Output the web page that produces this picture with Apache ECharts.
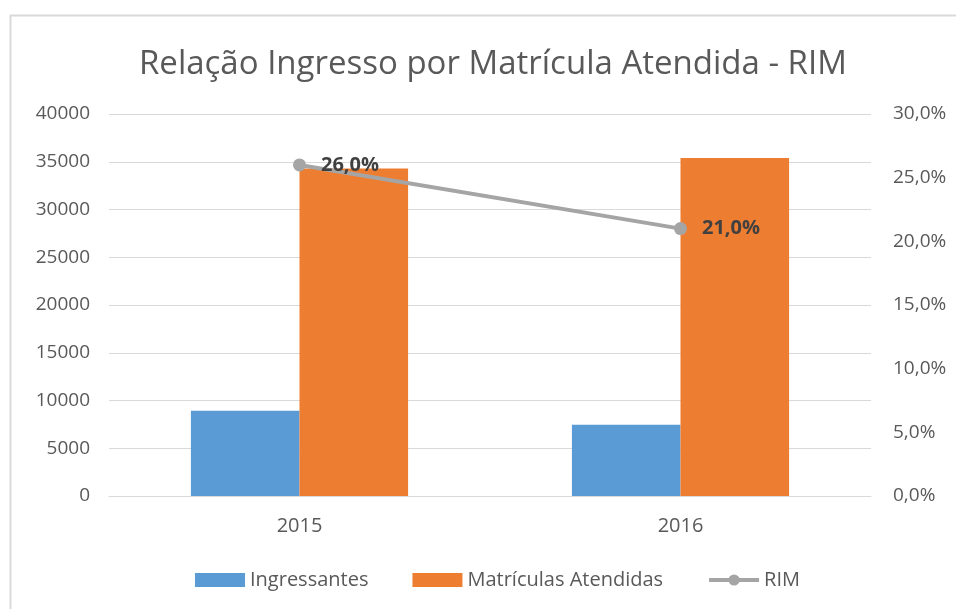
<!DOCTYPE html>
<html>
<head>
<meta charset="utf-8">
<script src="https://cdn.jsdelivr.net/npm/echarts@6/dist/echarts.min.js"></script>
<style>
  html, body { margin: 0; padding: 0; background: #fff; }
  #chart { width: 956px; height: 609px; }
</style>
</head>
<body>
<div id="chart"></div>
<script>
var categories = ['2015', '2016'];
var ingressantes = [8925, 7460];
var matriculas = [34290, 35400];
var rim = [0.26, 0.21];

var fontFam = '"Open Sans", "Noto Sans", sans-serif';
var grey = '#595959';

function pct(v) {
  return (v * 100).toFixed(1).replace('.', ',') + '%';
}

var option = {
  backgroundColor: '#fff',
  animation: false,
  textStyle: { fontFamily: fontFam },
  graphic: [{
    type: 'rect',
    left: 8, top: 13,
    shape: { width: 1000, height: 700 },
    style: { fill: 'none', stroke: '#d9d9d9', lineWidth: 2 },
    silent: true
  }],
  title: {
    text: 'Relação Ingresso por Matrícula Atendida - RIM',
    left: 134,
    top: 43,
    textStyle: { fontFamily: fontFam, fontSize: 33, fontWeight: 'normal', color: grey }
  },
  legend: {
    bottom: 14,
    left: 190,
    itemWidth: 50,
    itemHeight: 14,
    itemGap: 44,
    textStyle: { fontFamily: fontFam, fontSize: 20, color: grey },
    data: [
      { name: 'Ingressantes', icon: 'rect' },
      { name: 'Matrículas Atendidas', icon: 'rect' },
      { name: 'RIM', lineStyle: { width: 4, color: '#a5a5a5' } }
    ]
  },
  grid: { left: 109, right: 85, top: 114, bottom: 113 },
  xAxis: {
    type: 'category',
    data: categories,
    axisTick: { show: false },
    axisLine: { lineStyle: { color: '#d9d9d9', width: 1 } },
    axisLabel: { margin: 20, fontSize: 20, color: grey, fontFamily: fontFam }
  },
  yAxis: [{
    type: 'value',
    min: 0, max: 40000, interval: 5000,
    axisLine: { show: false },
    axisTick: { show: false },
    splitLine: { lineStyle: { color: '#d9d9d9', width: 1 } },
    axisLabel: { margin: 19, fontSize: 19, color: grey, fontFamily: fontFam, formatter: function (v) { return String(v); } }
  }, {
    type: 'value',
    min: 0, max: 0.3, interval: 0.05,
    axisLine: { show: false },
    axisTick: { show: false },
    splitLine: { show: false },
    axisLabel: { margin: 22, fontSize: 19, color: grey, fontFamily: fontFam, formatter: pct }
  }],
  series: [{
    name: 'Ingressantes',
    type: 'bar',
    data: ingressantes,
    barGap: '0%',
    barCategoryGap: '43%',
    itemStyle: { color: '#5b9bd5' }
  }, {
    name: 'Matrículas Atendidas',
    type: 'bar',
    data: matriculas,
    itemStyle: { color: '#ed7d31' }
  }, {
    name: 'RIM',
    type: 'line',
    yAxisIndex: 1,
    data: rim,
    symbol: 'circle',
    symbolSize: 13,
    z: 5,
    lineStyle: { color: '#a5a5a5', width: 4 },
    itemStyle: { color: '#a5a5a5' },
    label: {
      show: true,
      position: 'right',
      distance: 15,
      fontFamily: fontFam,
      fontSize: 20,
      fontWeight: 'bold',
      color: '#404040',
      formatter: function (p) { return pct(p.value); }
    }
  }]
};

var chart = echarts.init(document.getElementById('chart'));
chart.setOption(option);
</script>
</body>
</html>
